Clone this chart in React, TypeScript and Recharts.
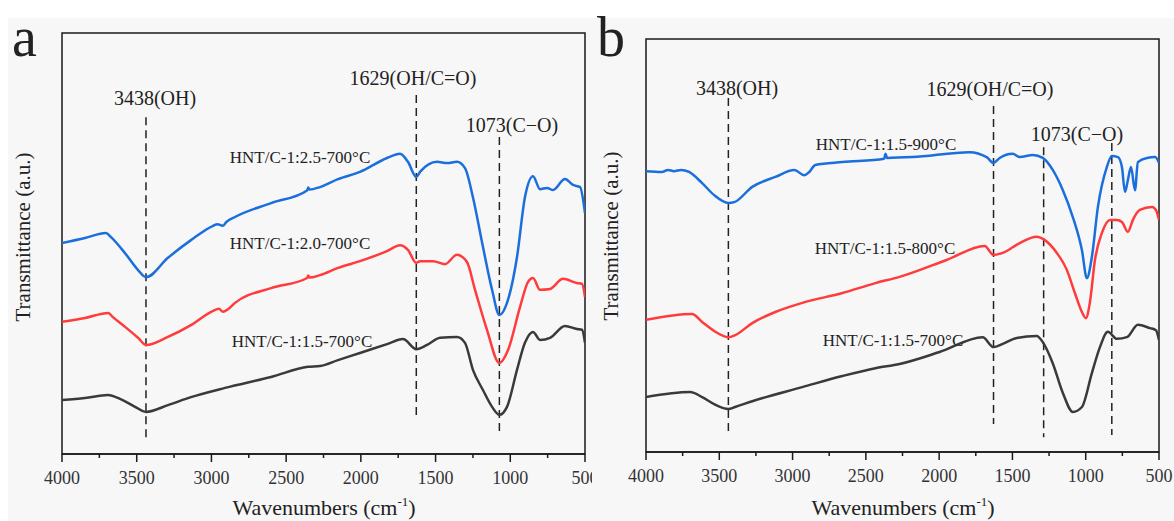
import { LineChart, Line, XAxis, YAxis, ReferenceLine, ReferenceArea } from 'recharts';

type Pt = [number, number];

// wavenumber (cm-1), transmittance (a.u.)
const a25: Pt[] = [
  [4000, 50.1], [3846, 51.3], [3706, 52.5], [3672, 51.5], [3578, 47.7], [3491, 43.7], [3438, 42.0],
  [3291, 46.6], [3137, 50.8], [2989, 54.2], [2960, 54.6], [2925, 54.2], [2900, 55.1], [2842, 56.3],
  [2601, 59.6], [2360, 62.6], [2352, 63.3], [2344, 62.8], [2273, 63.4], [2153, 65.3], [2006, 67.0],
  [1825, 70.3], [1738, 71.3], [1685, 69.4], [1629, 65.8], [1604, 67.0], [1490, 69.4], [1423, 69.1],
  [1357, 69.4], [1303, 67.9], [1250, 61.0], [1183, 49.2], [1122, 39.0], [1073, 33.0], [1022, 35.9],
  [955, 46.8], [902, 61.0], [848, 66.0], [801, 62.9], [754, 63.2], [714, 62.7], [634, 65.3],
  [580, 63.9], [533, 63.4], [500, 57.2],
];
const a20: Pt[] = [
  [4000, 31.4], [3846, 32.3], [3690, 33.5], [3659, 32.5], [3578, 30.2], [3491, 27.6], [3438, 25.9],
  [3291, 27.8], [3137, 30.6], [2989, 34.0], [2950, 34.5], [2923, 33.8], [2889, 34.4], [2842, 35.9],
  [2601, 39.4], [2360, 41.8], [2352, 42.4], [2344, 41.9], [2273, 42.5], [2153, 44.2], [2006, 45.8],
  [1825, 48.2], [1738, 49.6], [1685, 48.5], [1629, 45.4], [1604, 45.8], [1517, 45.8], [1437, 45.1],
  [1357, 47.3], [1290, 45.6], [1236, 39.0], [1156, 29.5], [1073, 21.6], [1015, 24.7], [935, 34.9],
  [881, 40.9], [848, 41.8], [801, 39.0], [734, 39.2], [647, 41.6], [554, 40.6], [520, 40.4], [500, 37.3],
];
const a15: Pt[] = [
  [4000, 12.8], [3846, 13.3], [3692, 14.0], [3612, 13.1], [3511, 11.2], [3438, 10.0], [3291, 11.6],
  [3137, 13.5], [2909, 15.7], [2601, 18.3], [2354, 20.7], [2273, 20.9], [2153, 22.3], [2006, 24.0],
  [1825, 26.1], [1718, 27.3], [1629, 24.9], [1557, 25.9], [1470, 27.6], [1357, 27.8], [1303, 26.4],
  [1250, 20.0], [1183, 15.2], [1122, 11.2], [1073, 9.3], [1022, 11.2], [955, 20.0], [902, 26.4],
  [848, 29.0], [801, 27.1], [734, 27.6], [634, 30.4], [554, 29.7], [520, 29.5], [500, 26.4],
];

const b900: Pt[] = [
  [4000, 68.0], [3891, 67.8], [3850, 68.3], [3809, 68.0], [3760, 68.3], [3706, 67.8], [3617, 65.1],
  [3535, 62.2], [3438, 60.3], [3398, 60.5], [3275, 64.2], [3118, 66.6], [2988, 68.3], [2920, 67.0],
  [2886, 67.8], [2845, 69.5], [2660, 70.2], [2375, 71.0], [2366, 72.2], [2355, 71.2], [2182, 71.4],
  [1792, 72.6], [1676, 71.4], [1629, 70.0], [1587, 71.2], [1498, 72.2], [1450, 71.4], [1361, 71.9],
  [1293, 71.2], [1225, 68.3], [1156, 63.4], [1088, 56.9], [1026, 48.9], [992, 42.1], [958, 47.2],
  [917, 59.3], [856, 69.0], [822, 71.7], [780, 71.4], [753, 69.0], [732, 63.0], [712, 65.9],
  [691, 69.0], [664, 63.4], [644, 70.2], [582, 71.2], [527, 71.4], [500, 70.0],
];
const b800: Pt[] = [
  [4000, 32.0], [3686, 33.4], [3617, 31.5], [3535, 29.3], [3438, 27.8], [3392, 28.3], [3275, 31.2],
  [3118, 33.9], [2934, 36.1], [2660, 38.5], [2435, 40.9], [2270, 42.4], [1949, 46.5], [1689, 49.9],
  [1629, 47.7], [1566, 48.2], [1450, 50.6], [1334, 52.1], [1279, 51.3], [1197, 48.2], [1129, 44.1],
  [1074, 38.5], [1026, 33.9], [999, 32.4], [972, 36.1], [937, 46.5], [890, 53.0], [835, 56.2],
  [787, 56.2], [753, 55.7], [712, 53.3], [678, 56.2], [631, 58.6], [548, 59.3], [521, 58.6], [500, 56.2],
];
const b700: Pt[] = [
  [4000, 13.3], [3699, 14.5], [3617, 13.3], [3535, 11.6], [3438, 10.4], [3392, 10.9], [3275, 12.3],
  [2934, 15.7], [2660, 18.4], [2435, 20.3], [2270, 21.3], [1997, 24.2], [1703, 27.8], [1629, 25.4],
  [1566, 26.2], [1471, 27.6], [1334, 28.1], [1293, 26.6], [1225, 21.5], [1156, 14.3], [1088, 9.7],
  [1026, 10.9], [958, 19.1], [903, 25.4], [849, 29.1], [787, 27.4], [719, 27.8], [644, 30.8],
  [562, 30.0], [521, 29.5], [500, 27.1],
];

const xTicks = [4000, 3750, 3500, 3250, 3000, 2750, 2500, 2250, 2000, 1750, 1500, 1250, 1000, 750, 500];
const peaksA = [3438, 1629, 1073];
const peaksB = [3438, 1629, 1287, 822];

// vertical extent of each dashed marker, in axis units
const spanA = [[80.0, 2.9], [85.3, 8.3], [75.3, 5.0]];
const spanB = [[85.7, 4.8], [83.8, 6.8], [73.8, 3.6], [74.8, 4.1]];

const BLUE = '#1a6fdc';
const RED = '#ff3b3b';
const BLACK = '#3a3a3a';
const FONT = '"Times New Roman", "Liberation Serif", serif';

const toRows = (pts: Pt[]) => pts.map(([wn, t]) => ({ wn, t }));

function BottomTick(props: any) {
  const { x, y, payload } = props;
  const major = payload.value % 500 === 0;
  return (
    <g>
      <line x1={x} x2={x} y1={y} y2={y + (major ? 8 : 4)} stroke="#1a1a1a" strokeWidth={1.5} />
      {major ? (
        <text x={x} y={y + 30} textAnchor="middle" fontSize={18} fontFamily={FONT} fill="#333">
          {payload.value}
        </text>
      ) : null}
    </g>
  );
}

function Spectrum({ width, height, margin, series, peaks, spans }: any) {
  return (
    <LineChart width={width} height={height} margin={margin}>
      <XAxis
        type="number"
        dataKey="wn"
        domain={[500, 4000]}
        reversed
        allowDataOverflow
        ticks={xTicks}
        interval={0}
        tick={(p: any) => <BottomTick {...p} />}
        tickLine={false}
        tickSize={0}
        tickMargin={0}
        height={30}
        axisLine={{ stroke: '#1a1a1a', strokeWidth: 1.5 }}
      />
      <YAxis type="number" domain={[0, 100]} hide allowDataOverflow />
      <ReferenceArea x1={500} x2={4000} y1={0} y2={100} fill="none" stroke="#1a1a1a" strokeWidth={1.5} />
      {peaks.map((wn: number, i: number) => (
        <ReferenceLine
          key={wn}
          segment={[{ x: wn, y: spans[i][0] }, { x: wn, y: spans[i][1] }]}
          stroke="#222"
          strokeWidth={1.5}
          strokeDasharray="8 5"
        />
      ))}
      {series.map((s: any) => (
        <Line
          key={s.name}
          name={s.name}
          data={toRows(s.points)}
          dataKey="t"
          type="monotone"
          stroke={s.color}
          strokeWidth={2.5}
          dot={false}
          isAnimationActive={false}
        />
      ))}
    </LineChart>
  );
}

export default function App() {
  const txt = { fontFamily: FONT, fill: '#222' };
  return (
    <div style={{ position: 'absolute', left: 0, top: 0, width: 1174, height: 521, background: '#fff', overflow: 'hidden' }}>
      <div style={{ position: 'absolute', left: 8, top: 18, right: 0, bottom: 0, background: '#f7f7f7' }} />
      <div style={{ position: 'absolute', left: 0, top: 0, width: 592, height: 521, overflow: 'hidden' }}>
        <Spectrum
          width={592}
          height={521}
          margin={{ top: 33, right: 7, bottom: 37, left: 62 }}
          peaks={peaksA}
          spans={spanA}
          series={[
            { name: 'HNT/C-1:2.5-700°C', points: a25, color: BLUE },
            { name: 'HNT/C-1:2.0-700°C', points: a20, color: RED },
            { name: 'HNT/C-1:1.5-700°C', points: a15, color: BLACK },
          ]}
        />
      </div>
      <div style={{ position: 'absolute', left: 592, top: 0, width: 582, height: 521, overflow: 'hidden' }}>
        <Spectrum
          width={582}
          height={521}
          margin={{ top: 39, right: 15, bottom: 39, left: 54 }}
          peaks={peaksB}
          spans={spanB}
          series={[
            { name: 'HNT/C-1:1.5-900°C', points: b900, color: BLUE },
            { name: 'HNT/C-1:1.5-800°C', points: b800, color: RED },
            { name: 'HNT/C-1:1.5-700°C', points: b700, color: BLACK },
          ]}
        />
      </div>
      <svg width={1174} height={521} style={{ position: 'absolute', left: 0, top: 0, pointerEvents: 'none' }}>
        <g {...txt}>
          <text x={12} y={56} fontSize={56}>a</text>
          <text x={597} y={56} fontSize={56}>b</text>

          <text x={30} y={237} fontSize={21} textAnchor="middle" transform="rotate(-90 30 237)">Transmittance (a.u.)</text>
          <text x={618} y={236} fontSize={21} textAnchor="middle" transform="rotate(-90 618 236)">Transmittance (a.u.)</text>

          <text x={324} y={515} fontSize={22} textAnchor="middle">
            Wavenumbers (cm<tspan fontSize={13} dy={-9}>-1</tspan><tspan dy={9}>)</tspan>
          </text>
          <text x={903} y={515} fontSize={22} textAnchor="middle">
            Wavenumbers (cm<tspan fontSize={13} dy={-9}>-1</tspan><tspan dy={9}>)</tspan>
          </text>

          <text x={155} y={105} fontSize={20} textAnchor="middle">3438(OH)</text>
          <text x={413} y={85} fontSize={20} textAnchor="middle">1629(OH/C=O)</text>
          <text x={512} y={132} fontSize={20} textAnchor="middle">1073(C−O)</text>
          <text x={300} y={163} fontSize={17} textAnchor="middle">HNT/C-1:2.5-700°C</text>
          <text x={300} y={249} fontSize={17} textAnchor="middle">HNT/C-1:2.0-700°C</text>
          <text x={302} y={347} fontSize={17} textAnchor="middle">HNT/C-1:1.5-700°C</text>

          <text x={737} y={95} fontSize={20} textAnchor="middle">3438(OH)</text>
          <text x={990} y={96} fontSize={20} textAnchor="middle">1629(OH/C=O)</text>
          <text x={1077} y={141} fontSize={20} textAnchor="middle">1073(C−O)</text>
          <text x={886} y={150} fontSize={17} textAnchor="middle">HNT/C-1:1.5-900°C</text>
          <text x={885} y={254} fontSize={17} textAnchor="middle">HNT/C-1:1.5-800°C</text>
          <text x={893} y={346} fontSize={17} textAnchor="middle">HNT/C-1:1.5-700°C</text>
        </g>
      </svg>
    </div>
  );
}
